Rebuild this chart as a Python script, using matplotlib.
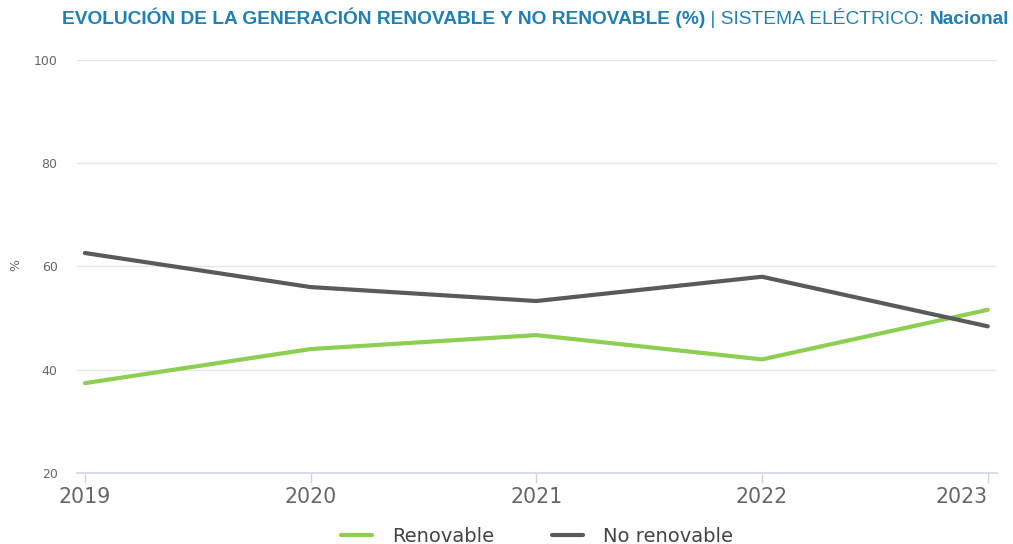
import matplotlib.pyplot as plt
import numpy as np

# Datos
anios = [2019, 2020, 2021, 2022, 2023]
renovable = [37.4, 44.0, 46.7, 42.0, 51.6]
no_renovable = [62.6, 56.0, 53.3, 58.0, 48.4]

color_renovable = '#8ccf52'
color_no_renovable = '#5a5a5a'
color_titulo = '#1f80b3'

fig = plt.figure(figsize=(10.13, 5.44), dpi=100)
ax = fig.add_axes([0.076, 0.1305, 0.908, 0.7595])

ax.plot(anios, renovable, color=color_renovable, lw=3, label='Renovable',
        solid_capstyle='round', solid_joinstyle='round')
ax.plot(anios, no_renovable, color=color_no_renovable, lw=3, label='No renovable',
        solid_capstyle='round', solid_joinstyle='round')

ax.set_xlim(2018.965, 2023.04)
ax.set_ylim(20, 100)
ax.set_yticks([20, 40, 60, 80, 100])
ax.set_xticks(anios)

ax.grid(axis='y', color='#e6e6e6', lw=1)
ax.set_axisbelow(True)
for s in ['top', 'right', 'left']:
    ax.spines[s].set_visible(False)
ax.spines['bottom'].set_color('#ccd6eb')
ax.spines['bottom'].set_linewidth(1.2)

ax.tick_params(axis='y', length=0, pad=14, labelsize=9, labelcolor='#666666')
ax.tick_params(axis='x', length=7, width=1, color='#ccd6eb', pad=3,
               labelsize=14.8, labelcolor='#666666')
# la etiqueta 2023 queda pegada al borde derecho
ax.get_xticklabels()[-1].set_horizontalalignment('right')
ax.get_xticklabels()[-1].set_x(2023.04)

ax.set_ylabel('%', fontsize=9, color='#666666')
ax.yaxis.set_label_coords(-0.06, 0.504)

leg = fig.legend(loc='lower center', bbox_to_anchor=(0.53, -0.035), ncol=2,
                 frameon=False, fontsize=14, handlelength=1.6, columnspacing=3,
                 handletextpad=1.0)
for t in leg.get_texts():
    t.set_color('#444444')

# Título en tres partes
ty = 0.956
t1 = fig.text(0.061, ty, 'EVOLUCIÓN DE LA GENERACIÓN RENOVABLE Y NO RENOVABLE (%)',
              fontsize=13.8, fontweight='bold', color=color_titulo,
              family='Liberation Sans', va='baseline')
t2 = fig.text(0, 0, ' | SISTEMA ELÉCTRICO: ', fontsize=13.8, color=color_titulo,
              family='Liberation Sans', va='baseline')
t3 = fig.text(0, 0, 'Nacional', fontsize=13.8, fontweight='bold', color=color_titulo,
              family='Liberation Sans', va='baseline')

fig.canvas.draw()
r = fig.canvas.get_renderer()
bb1 = t1.get_window_extent(r)
t2.set_position((bb1.x1 / fig.bbox.width, ty))
fig.canvas.draw()
bb2 = t2.get_window_extent(r)
t3.set_position((bb2.x1 / fig.bbox.width, ty))

fig.savefig('out.png', dpi=100)
